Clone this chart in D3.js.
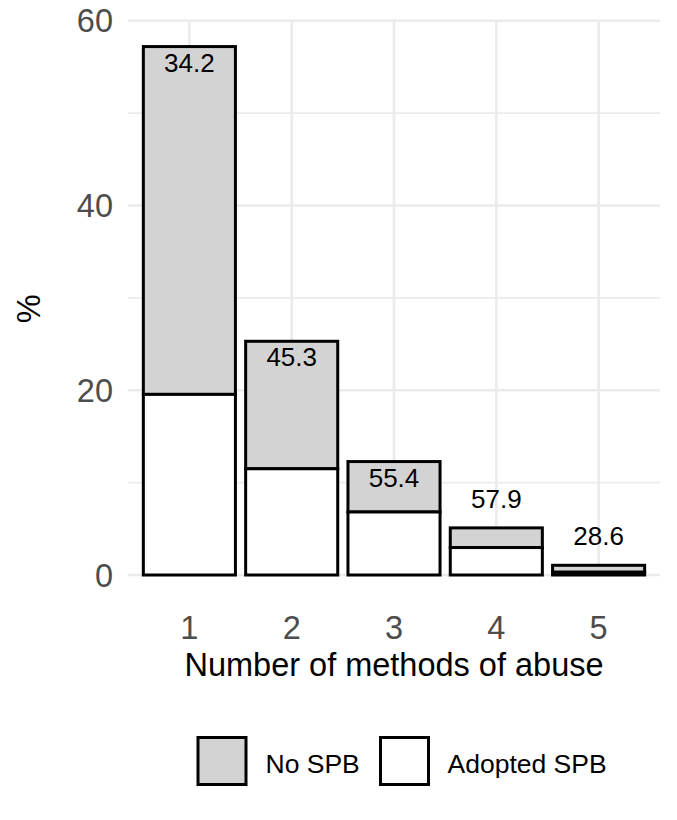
<!DOCTYPE html>
<html>
<head>
<meta charset="utf-8">
<script src="https://cdn.jsdelivr.net/npm/d3@7"></script>
<style>
  body { margin: 0; background: #fff; }
  text { font-family: "Liberation Sans", Arial, sans-serif; }
</style>
</head>
<body>
<div id="chart"></div>
<script>
// data
var categories = ["1", "2", "3", "4", "5"];
var adoptedSPB = [19.55, 11.5, 6.82, 2.97, 0.3];
var noSPB = [37.65, 13.8, 5.46, 2.13, 0.75];
var pctLabels = ["34.2", "45.3", "55.4", "57.9", "28.6"];
var yTicks = [0, 20, 40, 60];
var yMinor = [10, 30, 50];
var legendLabels = ["No SPB", "Adopted SPB"];

var svgWidth = 677;
var svgHeight = 820;

var margin = { top: 20.7, right: 17, bottom: 245, left: 128 };
var width = svgWidth - margin.left - margin.right;
var height = 575 - margin.top;

var svg = d3.select("#chart")
  .append("svg")
  .attr("width", svgWidth)
  .attr("height", svgHeight);

var chartGroup = svg.append("g")
  .attr("transform", `translate(${margin.left}, ${margin.top})`);

// discrete x with 0.6 expansion on each side
var xScale = d3.scaleLinear()
  .domain([0.4, categories.length + 0.6])
  .range([0, width]);

var yScale = d3.scaleLinear()
  .domain([0, 60])
  .range([height, 0]);

var gridColor = "#ebebeb";

// minor grid
chartGroup.selectAll(".minor")
  .data(yMinor)
  .enter()
  .append("line")
  .attr("x1", 0).attr("x2", width)
  .attr("y1", d => yScale(d)).attr("y2", d => yScale(d))
  .attr("stroke", gridColor)
  .attr("stroke-width", 1.6);

// major grid
chartGroup.selectAll(".majorY")
  .data(yTicks)
  .enter()
  .append("line")
  .attr("x1", 0).attr("x2", width)
  .attr("y1", d => yScale(d)).attr("y2", d => yScale(d))
  .attr("stroke", gridColor)
  .attr("stroke-width", 2.6);

chartGroup.selectAll(".majorX")
  .data(categories)
  .enter()
  .append("line")
  .attr("x1", (d, i) => xScale(i + 1)).attr("x2", (d, i) => xScale(i + 1))
  .attr("y1", 0).attr("y2", height)
  .attr("stroke", gridColor)
  .attr("stroke-width", 2.6);

// stacked data
var rows = categories.map(function(c, i) {
  return { cat: c, i: i, adopted: adoptedSPB[i], no: noSPB[i], total: adoptedSPB[i] + noSPB[i], label: pctLabels[i] };
});

var barW = (xScale(2) - xScale(1)) * 0.9;

// top segment: No SPB (grey)
chartGroup.selectAll(".noBar")
  .data(rows)
  .enter()
  .append("rect")
  .attr("x", d => xScale(d.i + 1) - barW / 2)
  .attr("y", d => yScale(d.total))
  .attr("width", barW)
  .attr("height", d => yScale(d.adopted) - yScale(d.total))
  .attr("fill", "#d3d3d3")
  .attr("stroke", "black")
  .attr("stroke-width", 3);

// bottom segment: Adopted SPB (white)
chartGroup.selectAll(".adBar")
  .data(rows)
  .enter()
  .append("rect")
  .attr("x", d => xScale(d.i + 1) - barW / 2)
  .attr("y", d => yScale(d.adopted))
  .attr("width", barW)
  .attr("height", d => yScale(0) - yScale(d.adopted))
  .attr("fill", "white")
  .attr("stroke", "black")
  .attr("stroke-width", 3);

// percentage labels: inside tall bars, above short ones
chartGroup.selectAll(".pct")
  .data(rows)
  .enter()
  .append("text")
  .attr("x", d => xScale(d.i + 1))
  .attr("y", d => d.total > 10 ? yScale(d.total) + 25 : yScale(d.total) - 20)
  .attr("text-anchor", "middle")
  .attr("font-size", "26px")
  .attr("fill", "black")
  .text(d => d.label);

// y tick labels
chartGroup.selectAll(".ytick")
  .data(yTicks)
  .enter()
  .append("text")
  .attr("x", -15)
  .attr("y", d => yScale(d))
  .attr("dy", "0.36em")
  .attr("text-anchor", "end")
  .attr("font-size", "32.5px")
  .attr("fill", "#4d4d4d")
  .text(d => d);

// x tick labels
chartGroup.selectAll(".xtick")
  .data(categories)
  .enter()
  .append("text")
  .attr("x", (d, i) => xScale(i + 1))
  .attr("y", height + 64.5)
  .attr("text-anchor", "middle")
  .attr("font-size", "32.5px")
  .attr("fill", "#4d4d4d")
  .text(d => d);

// axis titles
chartGroup.append("text")
  .attr("x", width / 2)
  .attr("y", height + 101.5)
  .attr("text-anchor", "middle")
  .attr("font-size", "32.5px")
  .attr("fill", "black")
  .text("Number of methods of abuse");

chartGroup.append("text")
  .attr("transform", "rotate(-90)")
  .attr("x", -height / 2 - 11)
  .attr("y", -margin.left + 40)
  .attr("text-anchor", "middle")
  .attr("font-size", "32.5px")
  .attr("fill", "black")
  .text("%");

// legend
var legendFills = ["#d3d3d3", "white"];
var legendKeyX = [198, 380.5];
var legendTextX = [265.5, 447.5];

var legend = svg.append("g");

legend.selectAll("rect")
  .data(legendLabels)
  .enter()
  .append("rect")
  .attr("x", (d, i) => legendKeyX[i])
  .attr("y", 737.5)
  .attr("width", 48)
  .attr("height", 47)
  .attr("fill", (d, i) => legendFills[i])
  .attr("stroke", "black")
  .attr("stroke-width", 3);

legend.selectAll("text")
  .data(legendLabels)
  .enter()
  .append("text")
  .attr("x", (d, i) => legendTextX[i])
  .attr("y", 772.5)
  .attr("font-size", "26.5px")
  .attr("fill", "black")
  .text(d => d);
</script>
</body>
</html>
